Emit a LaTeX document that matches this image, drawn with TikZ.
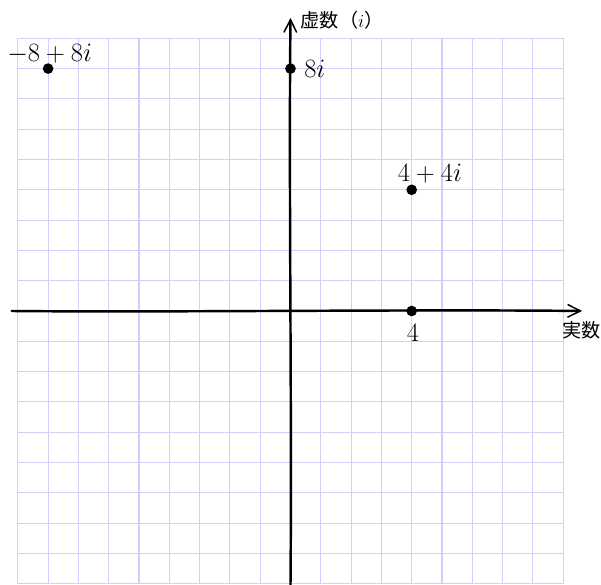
\documentclass[tikz,border=0pt]{standalone}
\usepackage{fontspec}
\newfontfamily\cjk{Noto Sans CJK JP}
\usetikzlibrary{arrows.meta}
\definecolor{gridc}{RGB}{208,208,252}
\tikzset{
  gridline/.style={draw=gridc, line width=1pt},
  axisline/.style={draw=black, line width=2.3pt, line cap=round,
    -{Straight Barb[length=12pt,width=12pt,line width=1.4pt]}},
  pt/.style={circle, fill=black, inner sep=0pt, minimum size=10pt},
  mlabel/.style={inner sep=0pt, font=\fontsize{24}{28}\selectfont},
  jlabel/.style={inner sep=0pt, font=\fontsize{18}{22}\selectfont\cjk},
}
\begin{document}
\begin{tikzpicture}
\useasboundingbox (-9.587,-9.043) rectangle (10.248,10.264);
\draw[gridline] (-9,-9) grid (9,9);
% axes
\coordinate (xl) at (-9.2,0);
\coordinate (xr) at (9.62,0);
\coordinate (yb) at (0,-9.1);
\coordinate (yt) at (0,9.67);
\draw[axisline] (xl) .. controls (-4,-0.05) and (4,0.06) .. (xr);
\draw[axisline] (yb) .. controls (0.05,-3) and (-0.06,4) .. (yt);
% points
\node[pt] (p1) at (-8,8) {};
\node[pt] (p2) at (0,8) {};
\node[pt] (p3) at (4,4) {};
\node[pt] (p4) at (4,0) {};
% labels
\node[mlabel, anchor=base] (l1) at (-7.95,8.25) {$-8+8i$};
\node[mlabel, anchor=base west] (l2) at (0.45,7.7) {$8i$};
\node[mlabel, anchor=base] (l3) at (4.6,4.26) {$4+4i$};
\node[mlabel, anchor=base] (l4) at (4.04,-1.02) {$4$};
\node[jlabel, anchor=west] (ly) at (0.33,9.6) {虚数（$i$）};
\node[jlabel] (lx) at (9.6,-0.63) {実数};
\end{tikzpicture}
\end{document}
